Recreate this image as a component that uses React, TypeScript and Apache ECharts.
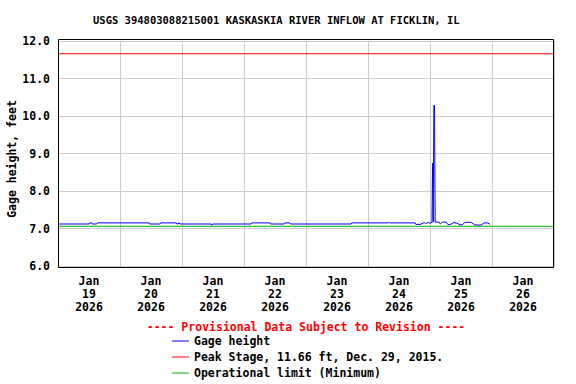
import React, { useEffect, useRef } from "react";
import * as echarts from "echarts";

const titleText = "USGS 394803088215001 KASKASKIA RIVER INFLOW AT FICKLIN, IL";
const yAxisTitle = "Gage height, feet";
const provisionalText = "---- Provisional Data Subject to Revision ----";
const dayLabels = ["Jan\n19\n2026", "Jan\n20\n2026", "Jan\n21\n2026", "Jan\n22\n2026", "Jan\n23\n2026", "Jan\n24\n2026", "Jan\n25\n2026", "Jan\n26\n2026"];
const yTicks = [6, 7, 8, 9, 10, 11, 12];

// times as "DD HH:MM" in January 2026
const gageTimes = [
  "19 00:00", "19 12:00", "19 12:15", "19 13:00", "19 13:15", "19 15:00", "19 15:15",
  "20 11:15", "20 11:30", "20 15:30", "20 15:45", "20 21:45", "20 22:00", "20 22:30",
  "20 22:45", "20 23:00", "20 23:15", "21 11:15", "21 11:30", "21 11:45", "22 02:45",
  "22 03:00", "22 10:00", "22 10:15", "22 15:30", "22 15:45", "22 17:45", "22 18:00",
  "23 17:30", "23 17:45", "24 07:45", "24 08:00", "24 08:15", "24 18:15", "24 18:30",
  "24 20:30", "24 20:45", "24 21:00", "24 21:45", "24 22:15", "24 22:45", "24 23:30",
  "25 00:00", "25 00:30", "25 00:45", "25 01:00", "25 01:15", "25 01:30", "25 01:45",
  "25 02:00", "25 03:30", "25 04:00", "25 04:45", "25 06:15", "25 07:00", "25 08:15",
  "25 09:15", "25 10:30", "25 11:30", "25 12:30", "25 13:30", "25 14:45", "25 16:00",
  "25 17:15", "25 19:00", "25 20:00", "25 21:00", "25 22:15", "25 23:15",
];
const gageValues = [
  7.12, 7.12, 7.15, 7.15, 7.12, 7.12, 7.15,
  7.15, 7.12, 7.12, 7.15, 7.15, 7.12, 7.12,
  7.15, 7.15, 7.12, 7.12, 7.09, 7.12, 7.12,
  7.15, 7.15, 7.12, 7.12, 7.15, 7.15, 7.12,
  7.12, 7.15, 7.15, 7.17, 7.15, 7.15, 7.11,
  7.11, 7.14, 7.13, 7.16, 7.13, 7.14, 7.17,
  7.13, 7.17, 7.15, 8.74, 7.18, 10.29, 10.28,
  7.17, 7.17, 7.12, 7.17, 7.17, 7.10, 7.12,
  7.16, 7.14, 7.10, 7.10, 7.16, 7.17, 7.16,
  7.10, 7.09, 7.10, 7.15, 7.15, 7.11,
];
const peakStage = 11.66;
const operationalLimit = 7.06;
const xRangeHours = [0, 192];
const legendNames = ["Gage height", "Peak Stage, 11.66 ft, Dec. 29, 2015.", "Operational limit (Minimum)"];

const FONT = "'DejaVu Sans Mono', 'Liberation Mono', monospace";

function toHours(s: string): number {
  const [d, hm] = s.split(" ");
  const [h, m] = hm.split(":").map(Number);
  return (Number(d) - 19) * 24 + h + m / 60;
}

export default function App() {
  const ref = useRef<HTMLDivElement>(null);
  useEffect(() => {
    if (!ref.current) return;
    const chart = echarts.init(ref.current, null, { renderer: "svg" });
    const gageData = gageTimes.map((t, i) => [toHours(t), gageValues[i]]);
    chart.setOption({
      animation: false,
      backgroundColor: "#ffffff",
      title: {
        text: titleText,
        left: 93,
        top: 14,
        padding: 0,
        textStyle: { fontFamily: FONT, fontSize: 10.5, fontWeight: "bold", color: "#000" },
      },
      grid: { left: 58, right: 22, top: 41, bottom: 118 },
      xAxis: [
        {
          type: "value",
          min: xRangeHours[0],
          max: xRangeHours[1],
          interval: 24,
          axisLine: { show: false },
          axisTick: { show: false },
          axisLabel: { show: false },
          splitLine: { show: true, lineStyle: { color: "#cccccc", width: 1 } },
        },
        {
          type: "category",
          data: dayLabels,
          boundaryGap: true,
          position: "bottom",
          axisLine: { show: false },
          axisTick: { show: false },
          splitLine: { show: false },
          axisLabel: {
            interval: 0,
            margin: 9,
            fontFamily: FONT,
            fontSize: 11.5,
            fontWeight: "bold",
            color: "#000",
            lineHeight: 12.8,
          },
        },
      ],
      yAxis: {
        type: "value",
        min: yTicks[0],
        max: yTicks[yTicks.length - 1],
        interval: 1,
        axisLine: { show: false },
        axisTick: { show: false },
        axisLabel: {
          margin: 8,
          fontFamily: FONT,
          fontSize: 11.5,
          fontWeight: "bold",
          color: "#000",
          formatter: (v: number) => v.toFixed(1),
        },
        splitLine: { show: true, lineStyle: { color: "#cccccc", width: 1 } },
      },
      legend: {
        orient: "vertical",
        left: 172,
        top: 333,
        padding: 0,
        itemGap: 0,
        itemWidth: 17,
        itemHeight: 1,
        icon: "rect",
        selectedMode: false,
        textStyle: { fontFamily: FONT, fontSize: 11.5, fontWeight: "bold", color: "#000", lineHeight: 16 },
        data: legendNames,
      },
      series: [
        {
          name: legendNames[2],
          type: "line",
          xAxisIndex: 0,
          showSymbol: false,
          color: "#00b000",
          lineStyle: { color: "#00b000", width: 1 },
          data: [[xRangeHours[0], operationalLimit], [xRangeHours[1], operationalLimit]],
        },
        {
          name: legendNames[1],
          type: "line",
          xAxisIndex: 0,
          showSymbol: false,
          color: "#ff0000",
          lineStyle: { color: "#ff0000", width: 1 },
          data: [[xRangeHours[0], peakStage], [xRangeHours[1], peakStage]],
        },
        {
          name: legendNames[0],
          type: "line",
          xAxisIndex: 0,
          showSymbol: false,
          color: "#0000ff",
          lineStyle: { color: "#0000ff", width: 1 },
          data: gageData,
        },
      ],
      graphic: [
        {
          type: "rect",
          shape: { x: 58.5, y: 39.5, width: 495, height: 228 },
          style: { fill: "none", stroke: "#000", lineWidth: 1 },
          z: 100,
        },
        {
          type: "text",
          x: 12,
          y: 159,
          rotation: Math.PI / 2,
          style: {
            text: yAxisTitle,
            fontFamily: FONT,
            fontSize: 11.5,
            fontWeight: "bold",
            fill: "#000",
            align: "center",
            verticalAlign: "middle",
          },
        },
        {
          type: "text",
          x: 306,
          y: 327,
          style: {
            text: provisionalText,
            fontFamily: FONT,
            fontSize: 11.5,
            fontWeight: "bold",
            fill: "#ff0000",
            align: "center",
            verticalAlign: "middle",
          },
        },
      ],
    });
    return () => chart.dispose();
  }, []);
  return <div ref={ref} style={{ position: "fixed", left: 0, top: 0, width: 576, height: 384 }} />;
}
